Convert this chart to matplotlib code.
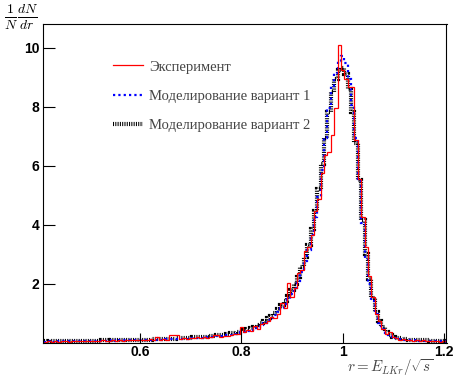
import numpy as np
import matplotlib
matplotlib.use("Agg")
import matplotlib.pyplot as plt
from matplotlib.lines import Line2D

plt.rcParams['mathtext.fontset'] = 'cm'

# Histogram binning: 120 bins of width 1/150 starting at 0.41
bin_lo = 0.41
bin_count = 120
bin_width = 1.0 / 150

# Experiment (red)
experiment = [
    0.02,0.04,0.03,0.05,0.03,0.04,0.05,0.03,0.05,0.04,0.06,0.04,0.05,0.06,0.04,
    0.05,0.04,0.07,0.05,0.06,0.08,0.05,0.07,0.06,0.09,0.07,0.08,0.10,0.07,0.09,
    0.09,0.11,0.08,0.17,0.10,0.12,0.09,0.25,0.24,0.26,0.13,0.15,0.11,0.14,0.16,
    0.20,0.14,0.17,0.15,0.19,0.26,0.27,0.20,0.23,0.21,0.25,0.28,0.30,0.54,0.36,
    0.42,0.38,0.56,0.45,0.62,0.66,0.72,0.88,0.82,0.98,1.34,1.18,2.02,1.55,1.85,
    2.36,2.45,3.10,3.25,3.65,4.45,4.85,5.75,6.35,6.45,7.05,7.95,10.09,9.25,8.95,
    8.65,8.65,6.85,5.55,4.25,3.25,2.25,1.55,0.97,0.72,0.47,0.28,0.36,0.20,0.15,
    0.10,0.12,0.08,0.09,0.06,0.07,0.05,0.07,0.04,0.05,0.04,0.05,0.03,0.04,0.03,
]

# Simulation variant 1 (blue dotted)
model1 = [
    0.03,0.04,0.03,0.04,0.04,0.04,0.04,0.05,0.04,0.05,0.05,0.05,0.05,0.05,0.06,
    0.05,0.06,0.06,0.06,0.06,0.07,0.06,0.07,0.07,0.07,0.08,0.07,0.08,0.08,0.08,
    0.09,0.09,0.09,0.10,0.10,0.10,0.11,0.11,0.11,0.12,0.12,0.13,0.13,0.14,0.14,
    0.15,0.16,0.17,0.18,0.19,0.20,0.21,0.22,0.24,0.25,0.27,0.29,0.31,0.34,0.37,
    0.40,0.44,0.49,0.54,0.60,0.67,0.75,0.84,0.94,1.05,1.17,1.31,1.47,1.65,1.85,
    2.10,2.40,2.75,3.15,3.65,4.25,4.95,5.85,6.95,7.95,8.70,9.15,9.55,9.72,9.48,
    8.95,8.05,6.95,5.55,4.05,2.85,2.00,1.40,0.95,0.67,0.47,0.33,0.24,0.18,0.14,
    0.12,0.10,0.09,0.08,0.07,0.07,0.06,0.06,0.05,0.05,0.05,0.04,0.04,0.04,0.03,
]

# Simulation variant 2 (black)
model2 = [
    0.04,0.03,0.04,0.05,0.04,0.04,0.05,0.05,0.04,0.06,0.05,0.05,0.05,0.06,0.06,
    0.06,0.06,0.07,0.07,0.06,0.07,0.08,0.07,0.08,0.08,0.09,0.08,0.09,0.09,0.10,
    0.10,0.10,0.11,0.11,0.12,0.11,0.12,0.13,0.13,0.14,0.14,0.15,0.15,0.16,0.17,
    0.17,0.18,0.19,0.20,0.21,0.23,0.24,0.25,0.27,0.29,0.31,0.33,0.35,0.38,0.41,
    0.45,0.49,0.54,0.60,0.66,0.73,0.82,0.91,1.01,1.13,1.26,1.41,1.58,1.77,1.98,
    2.22,2.55,2.90,3.32,3.85,4.45,5.20,6.05,6.95,7.80,8.50,8.95,9.25,9.30,9.10,
    8.60,7.80,6.75,5.50,4.15,3.00,2.15,1.50,1.03,0.73,0.52,0.37,0.27,0.20,0.16,
    0.14,0.12,0.11,0.10,0.09,0.08,0.08,0.07,0.07,0.06,0.06,0.05,0.05,0.05,0.04,
]

labels = ["Эксперимент", "Моделирование вариант 1", "Моделирование вариант 2"]
x_ticks = [0.6, 0.8, 1.0, 1.2]
x_ticklabels = ["0.6", "0.8", "1", "1.2"]
y_ticks = [2, 4, 6, 8, 10]
y_ticklabels = ["2", "4", "6", "8", "10"]

edges = bin_lo + np.arange(bin_count + 1) * bin_width

W, H = 454, 377
fig = plt.figure(figsize=(W / 100, H / 100), dpi=100)
ax = fig.add_axes([43.3 / W, 1 - 342.5 / H, (446.5 - 43.3) / W, (342.5 - 24.3) / H])

black_style = (0, (0.25, 0.3))
blue_style = (0, (1, 1.4))
ax.stairs(model2, edges, color='black', lw=3.0, linestyle=black_style, baseline=None)
ax.stairs(model1, edges, color='#0000ff', lw=1.6, linestyle=blue_style, baseline=None)
ax.stairs(experiment, edges, color='#ff0000', lw=0.9, baseline=None)

ax.set_xlim(0.4088, 1.2053)
ax.set_ylim(0, 10.79)
ax.set_xticks(x_ticks)
ax.set_xticklabels(x_ticklabels)
ax.set_yticks(y_ticks)
ax.set_yticklabels(y_ticklabels)
ax.tick_params(axis='x', direction='in', length=6.9, width=0.8, pad=2)
ax.tick_params(axis='y', direction='in', length=8.6, width=0.8, pad=3)
for lab in ax.get_xticklabels() + ax.get_yticklabels():
    lab.set_fontfamily('Liberation Sans')
    lab.set_fontweight('bold')
    lab.set_fontsize(10)
for sp in ax.spines.values():
    sp.set_linewidth(0.8)

handles = [
    Line2D([], [], color='#ff0000', lw=0.9),
    Line2D([], [], color='#0000ff', lw=1.6, linestyle=blue_style),
    Line2D([], [], color='black', lw=3.0, linestyle=black_style),
]
leg = ax.legend(handles, labels, loc='upper left', bbox_to_anchor=(0.14, 0.928),
                frameon=False, handlelength=2.05, handletextpad=0.45,
                labelspacing=1.1, prop={'family': 'Liberation Serif', 'size': 10.5})
for t in leg.get_texts():
    t.set_color('#444444')
leg.set_zorder(10)

fig.text(4 / W, 1 - 17 / H, r'$\frac{1}{N}\frac{dN}{dr}$', fontsize=14, va='center', ha='left')
fig.text(433 / W, 1 - 372 / H, r'$r = E_{LKr}/\sqrt{s}$', fontsize=10.8,
         ha='right', va='baseline', color='#444444')

fig.savefig('out.png', dpi=100)
